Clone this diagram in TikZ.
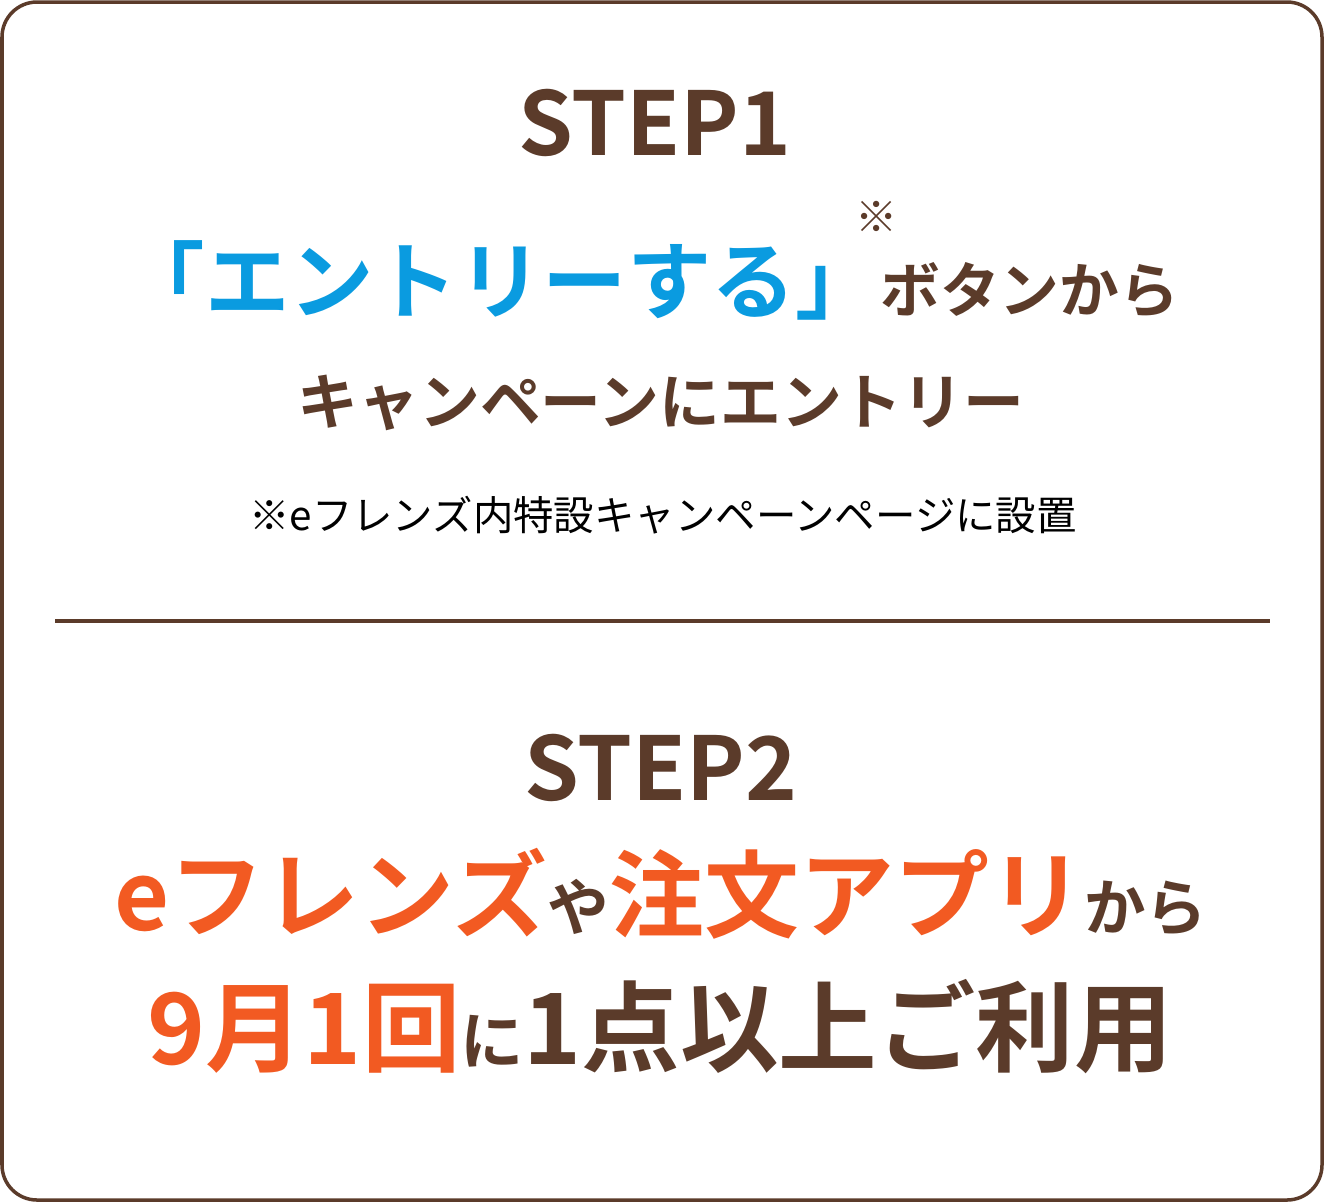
\documentclass[tikz,border=0pt]{standalone}
\usepackage{fontspec}
\setmainfont{Noto Sans CJK JP}[BoldFont={Noto Sans CJK JP Bold}]
\definecolor{brn}{HTML}{5B3B2A}
\definecolor{blu}{HTML}{0A9BE0}
\definecolor{org}{HTML}{F25A22}
\tikzset{
  txt/.style={text=brn, font=\bfseries, inner sep=0pt, anchor=base},
  big/.style={txt, font=\fontsize{#1}{#1}\selectfont\bfseries}
}
\begin{document}
\begin{tikzpicture}[x=0.01cm,y=-0.01cm]
\useasboundingbox (0,0) rectangle (1324,1202);
\draw[brn, line width=0.35mm, rounded corners=3.5mm] (2,2) rectangle (1322,1200);
% step 1
\node[big=25pt] (s1) at (655,155) {STEP1};
\node[big=24pt] (l1) at (650,312) {\textcolor{blu}{「エントリーする」}{\fontsize{17pt}{17pt}\selectfont ボタンから}};
\node[big=12pt] (mark) at (877,232) {※};
\node[big=17.3pt] (l2) at (661,424) {キャンペーンにエントリー};
\node[txt, font=\fontsize{11.5pt}{11.5pt}\selectfont, text=black] (note) at (663,530) {※eフレンズ内特設キャンペーンページに設置};
\coordinate (dl) at (55,621);
\coordinate (dr) at (1270,621);
\draw[brn, line width=0.4mm] (dl) -- (dr);
% step 2
\node[big=25pt] (s2) at (661,800) {STEP2};
\node[big=27pt] (l3) at (661,930) {\textcolor{org}{eフレンズ}{\fontsize{17.5pt}{17.5pt}\selectfont や}\textcolor{org}{注文アプリ}{\fontsize{17.5pt}{17.5pt}\selectfont から}};
\node[big=28pt] (l4) at (660,1064) {\textcolor{org}{9月1回}{\fontsize{18pt}{18pt}\selectfont に}1点以上ご利用};
\end{tikzpicture}
\end{document}
